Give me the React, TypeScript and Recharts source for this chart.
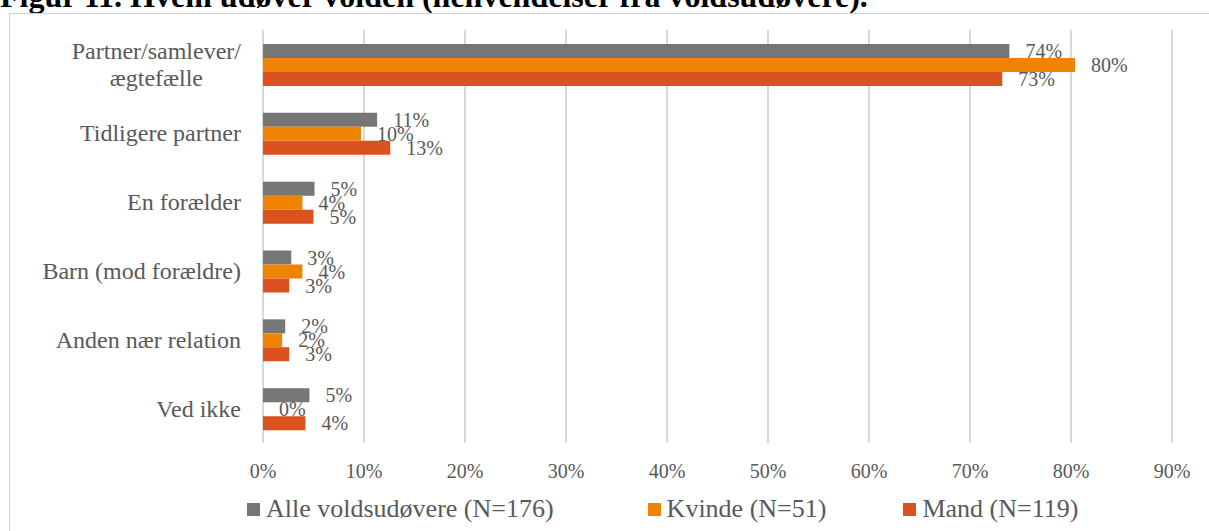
import React from 'react';
import { BarChart, Bar, XAxis, YAxis, CartesianGrid, LabelList, Legend } from 'recharts';

// Hvem udøver volden (henvendelser fra voldsudøvere), andel i %
const CATEGORIES = [
  'Partner/samlever/\nægtefælle',
  'Tidligere partner',
  'En forælder',
  'Barn (mod forældre)',
  'Anden nær relation',
  'Ved ikke',
];
const ALLE = [73.9, 11.3, 5.1, 2.8, 2.2, 4.6];
const KVINDE = [80.4, 9.7, 3.9, 3.9, 1.9, 0];
const MAND = [73.2, 12.6, 5.0, 2.6, 2.6, 4.2];
const X_TICKS = [0, 10, 20, 30, 40, 50, 60, 70, 80, 90];

const SERIES = [
  { key: 'alle', name: 'Alle voldsudøvere (N=176)', color: '#767676', values: ALLE },
  { key: 'kvinde', name: 'Kvinde (N=51)', color: '#F08402', values: KVINDE },
  { key: 'mand', name: 'Mand (N=119)', color: '#DA521F', values: MAND },
];

const FONT = '"Liberation Serif", "DejaVu Serif", serif';
const TEXT = '#595959';
const LEGEND_SPACING = [0, 94, 77];

const data = CATEGORIES.map((name, i) => {
  const row: Record<string, string | number> = { name };
  SERIES.forEach(s => { row[s.key] = s.values[i]; });
  return row;
});

let ctx: CanvasRenderingContext2D | null = null;
const measure = (txt: string, size: number) => {
  if (!ctx) ctx = document.createElement('canvas').getContext('2d');
  if (!ctx) return txt.length * size * 0.45;
  ctx.font = `${size}px "Liberation Serif"`;
  return ctx.measureText(txt).width;
};

const CategoryTick = (props: any) => {
  const { x, y, payload } = props;
  const size = 24;
  const lines = String(payload.value).split('\n');
  const w = Math.max(...lines.map(l => measure(l, size)));
  const lh = 27;
  return (
    <text fill={TEXT} fontSize={size} fontFamily={FONT}>
      {lines.map((l, i) => (
        <tspan
          key={i}
          x={lines.length > 1 ? x - w / 2 : x}
          y={y + (i - (lines.length - 1) / 2) * lh}
          textAnchor={lines.length > 1 ? 'middle' : 'end'}
          dominantBaseline="central"
        >
          {l}
        </tspan>
      ))}
    </text>
  );
};

const PercentTick = (props: any) => {
  const { x, y, payload } = props;
  return (
    <text x={x} y={y} dy="0.71em" textAnchor="middle" fill={TEXT} fontSize={20} fontFamily={FONT}>
      {`${payload.value}%`}
    </text>
  );
};

const ValueLabel = (props: any) => {
  const { x, y, width, height, value } = props;
  return (
    <text
      x={Number(x) + Number(width) + 16}
      y={Number(y) + Number(height) / 2}
      dominantBaseline="central"
      fill={TEXT}
      fontSize={20}
      fontFamily={FONT}
    >
      {`${Math.round(Number(value))}%`}
    </text>
  );
};

const LegendContent = () => (
  <div style={{ display: 'flex', alignItems: 'center', fontFamily: FONT, fontSize: 26, color: TEXT, lineHeight: '28px' }}>
    {SERIES.map((s, i) => (
      <div key={s.key} style={{ display: 'flex', alignItems: 'center', whiteSpace: 'nowrap', marginLeft: LEGEND_SPACING[i] }}>
        <span style={{ width: 13, height: 13, background: s.color, display: 'inline-block', marginRight: 6 }} />
        {s.name}
      </div>
    ))}
  </div>
);

export default function App() {
  return (
    <div style={{ position: 'absolute', left: 0, top: 0, width: 1209, height: 531, overflow: 'hidden', background: '#fff', fontFamily: FONT }}>
      <div style={{ position: 'absolute', left: 0, top: -20, fontWeight: 'bold', fontSize: 32, lineHeight: '32px', whiteSpace: 'nowrap', color: '#000' }}>
        Figur 11. Hvem udøver volden (henvendelser fra voldsudøvere).
      </div>
      <div style={{ position: 'absolute', left: 9, top: 13, width: 1220, height: 540, border: '1px solid #d0d0d0', boxSizing: 'border-box' }} />
      <div style={{ position: 'absolute', left: 9, top: 13 }}>
        <BarChart
          width={1200}
          height={518}
          data={data}
          layout="vertical"
          margin={{ top: 17, right: 37, left: 0, bottom: 58 }}
          barGap={0}
          barCategoryGap={14}
        >
          <CartesianGrid horizontal={false} stroke="#d9d9d9" strokeWidth={2} />
          <XAxis
            type="number"
            domain={[0, 90]}
            ticks={X_TICKS}
            axisLine={false}
            tickLine={false}
            tickSize={0}
            tickMargin={21}
            height={30}
            tick={<PercentTick />}
            interval={0}
          />
          <YAxis
            type="category"
            dataKey="name"
            width={254}
            axisLine={false}
            tickLine={false}
            tickSize={0}
            tickMargin={22}
            tick={<CategoryTick />}
            interval={0}
          />
          {SERIES.map(s => (
            <Bar key={s.key} dataKey={s.key} name={s.name} fill={s.color} minPointSize={0.01} isAnimationActive={false}>
              <LabelList dataKey={s.key} content={<ValueLabel />} />
            </Bar>
          ))}
          <Legend
            layout="horizontal"
            verticalAlign="middle"
            align="center"
            content={<LegendContent />}
            wrapperStyle={{ position: 'absolute', top: 482, left: 238, width: 'auto' }}
          />
        </BarChart>
      </div>
    </div>
  );
}
